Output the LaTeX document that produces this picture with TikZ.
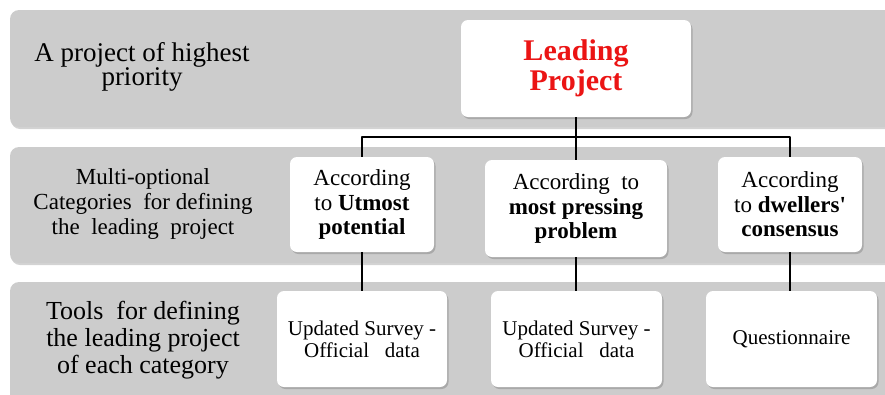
\documentclass[tikz,border=0pt]{standalone}
\usepackage{fontspec}
\setmainfont{Liberation Serif}
\newfontfamily\plainserif{Liberation Serif}
\usetikzlibrary{shadows}
\definecolor{bandgray}{RGB}{204,204,204}
\definecolor{leadred}{RGB}{235,20,20}
\newcommand{\quoteup}{{\plainserif\bfseries '}}
\tikzset{
  band/.style={fill=bandgray, rounded corners=9pt, drop shadow={shadow xshift=1pt, shadow yshift=-2pt, opacity=.35}},
  card/.style={fill=white, rounded corners=7pt, align=center, inner sep=2pt, drop shadow={shadow xshift=1.5pt, shadow yshift=-2pt, opacity=.45}},
  rowlabel/.style={align=center, inner sep=0pt},
  cattext/.style={font=\fontsize{23}{24.5}\selectfont},
  tooltext/.style={font=\fontsize{21}{22}\selectfont},
  link/.style={line width=2pt}
}
\begin{document}
\begin{tikzpicture}[x=1pt, y=-1pt, line join=round]
	\useasboundingbox (0,0) rectangle (885,394);
	\clip (0,0) rectangle (885,394);
	% gray rows
	\fill[band] (10,10) rectangle (900,127);
	\fill[band] (10,147) rectangle (900,263);
	\fill[band] (10,282) rectangle (900,410);
	% row captions
	\node[rowlabel, font=\fontsize{27}{23}\selectfont] (lab1) at (142,67) {A project of highest\\priority};
	\node[rowlabel, font=\fontsize{23}{25}\selectfont] (lab2) at (143,204) {Multi-optional\\Categories~ for defining\\the~ leading~ project};
	\node[rowlabel, font=\fontsize{26}{27}\selectfont] (lab3) at (143,340) {Tools~ for defining\\the leading project\\of each category};
	% boxes
	\node[card, minimum width=230pt, minimum height=97pt, text=leadred, font=\bfseries\fontsize{30}{30}\selectfont] (lead) at (576,68.5) {Leading\\Project};
	\node[card, cattext, minimum width=144pt, minimum height=95pt] (cat1) at (362,204.5) {According\\to \textbf{Utmost}\\\textbf{potential}};
	\node[card, cattext, minimum width=182pt, minimum height=97pt] (cat2) at (576,208.5) {According~ to\\\textbf{most pressing}\\\textbf{problem}};
	\node[card, cattext, minimum width=144pt, minimum height=95pt] (cat3) at (790,204.5) {According\\to \textbf{dwellers\quoteup}\\\textbf{consensus}};
	\node[card, tooltext, minimum width=170pt, minimum height=96pt] (tool1) at (362,339) {Updated Survey -\\Official~~ data};
	\node[card, tooltext, minimum width=171pt, minimum height=96pt] (tool2) at (576.5,339) {Updated Survey -\\Official~~ data};
	\node[card, tooltext, minimum width=171pt, minimum height=96pt] (tool3) at (791.5,339) {Questionnaire};
	% connectors
	\coordinate (bus) at (576,137);
	\draw[link] (lead.south) -- (bus);
	\draw[link] (cat1.north) |- (bus) -| (cat3.north);
	\draw[link] (bus) -- (cat2.north);
	\draw[link] (cat1.south) -- (tool1.north);
	\draw[link] (cat2.south) -- (cat2.south |- tool2.north);
	\draw[link] (cat3.south) -- (cat3.south |- tool3.north);
\end{tikzpicture}
\end{document}
